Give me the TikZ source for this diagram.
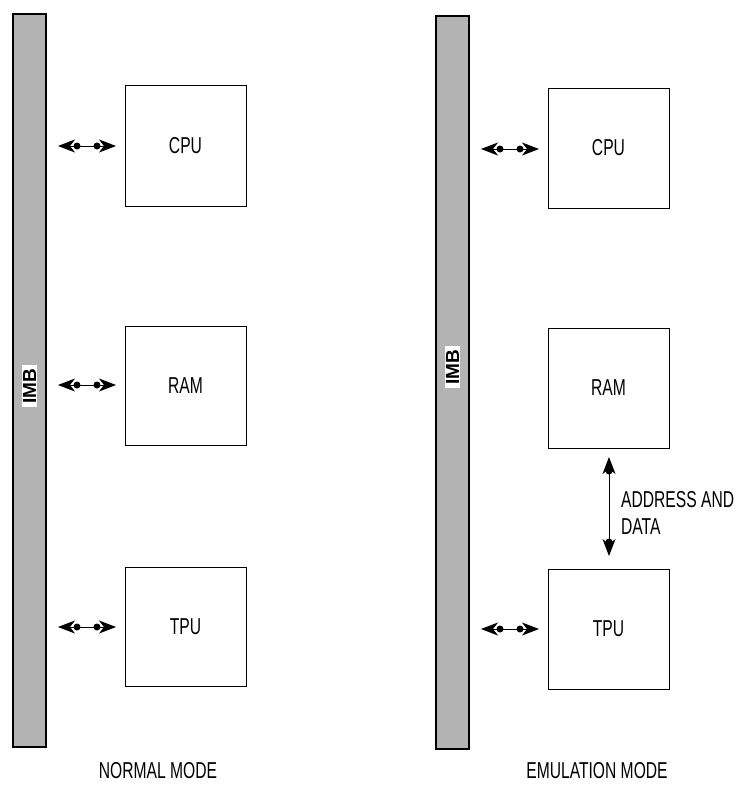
\documentclass[tikz,border=0pt]{standalone}
\usepackage{fontspec}
\setmainfont{Liberation Sans}
\usetikzlibrary{arrows.meta}
\definecolor{bargray}{HTML}{B3B3B3}
\begin{document}
\begin{tikzpicture}[x=1pt,y=-1pt,
  bar/.style={draw=black,line width=1.2pt,fill=bargray},
  blk/.style={draw=black,line width=0.8pt,fill=white},
  lbl/.style={font=\fontsize{23}{27}\selectfont,xscale=0.68,inner sep=0pt},
  imb/.style={fill=white,inner xsep=4pt,inner ysep=1pt,rotate=90,font=\fontsize{19}{22}\selectfont\bfseries},
  link/.style={line width=0.9pt,{Stealth[length=17pt,width=13pt,inset=5pt]}-{Stealth[length=17pt,width=13pt,inset=5pt]}},
  dot/.style={circle,fill=black,inner sep=0pt,minimum size=7pt}]
\useasboundingbox (0,0) rectangle (741,785);
% bars
\draw[bar] (13,14) rectangle (46,747);
\draw[bar] (436,16) rectangle (469,749);
\node[imb] (imbL) at (29.5,386) {IMB};
\node[imb] (imbR) at (452.5,367) {IMB};
% left blocks
\draw[blk] (125,85) rectangle (246,206); \node[lbl] (cpuL) at (185.5,145.5) {CPU};
\draw[blk] (125,326) rectangle (246,445); \node[lbl] (ramL) at (185.5,385.5) {RAM};
\draw[blk] (125,567) rectangle (246,686); \node[lbl] (tpuL) at (185.5,626.5) {TPU};
% right blocks
\draw[blk] (548,88) rectangle (669,208); \node[lbl] (cpuR) at (608.5,148) {CPU};
\draw[blk] (548,328) rectangle (669,448); \node[lbl] (ramR) at (608.5,388) {RAM};
\draw[blk] (548,569) rectangle (669,689); \node[lbl] (tpuR) at (608.5,629) {TPU};
% horizontal links
\foreach \y/\n in {146/a,385/b,627/c}{
  \coordinate (l\n1) at (58,\y); \coordinate (l\n2) at (116,\y);
  \draw[link] (l\n1) -- (l\n2);
  \node[dot] at (77,\y) {}; \node[dot] at (97,\y) {};
}
\foreach \y/\n in {149/a,629/c}{
  \coordinate (r\n1) at (481,\y); \coordinate (r\n2) at (539,\y);
  \draw[link] (r\n1) -- (r\n2);
  \node[dot] at (500,\y) {}; \node[dot] at (520,\y) {};
}
% vertical link
\coordinate (v1) at (609,457); \coordinate (v2) at (609,556);
\draw[link] (v1) -- (v2);
\node[dot] at (609,471) {}; \node[dot] at (609,542) {};
\node[lbl,anchor=west,align=left] (addr) at (621,513) {ADDRESS AND\\DATA};
% captions
\node[lbl,anchor=base] (nm) at (158,778) {NORMAL MODE};
\node[lbl,anchor=base] (em) at (597,778) {EMULATION MODE};
\end{tikzpicture}
\end{document}
